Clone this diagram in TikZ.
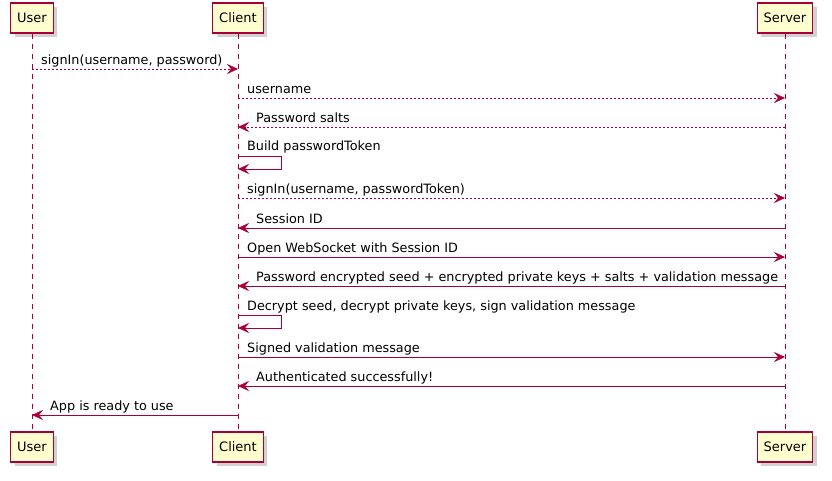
\documentclass[tikz,border=0pt]{standalone}
\usepackage{fontspec}
\setmainfont{DejaVu Sans}
\usetikzlibrary{shadows, arrows.meta, positioning}
\definecolor{umlred}{HTML}{A80036}
\definecolor{umlfill}{HTML}{FEFECE}

\begin{document}
\begin{tikzpicture}[
	x=1pt, y=-1pt,
	actor/.style={draw=umlred, fill=umlfill, line width=1.1pt, minimum height=30pt, inner xsep=6.5pt,
		font=\fontsize{13}{15}\selectfont,
		drop shadow={shadow xshift=4pt, shadow yshift=-4pt, opacity=0.3, fill=black!60}},
	lifeline/.style={draw=umlred, dash pattern=on 5pt off 5pt},
	call/.style={draw=umlred, -{Stealth[length=11pt, width=10pt, inset=4pt]}},
	reply/.style={call, dash pattern=on 2pt off 2pt},
	lbl/.style={anchor=base west, inner sep=0pt, font=\fontsize{12.8}{15}\selectfont}
	]
	\useasboundingbox (0,0) rectangle (832,481);
	
	\node[actor] (userT) at (32,18) {User};
	\node[actor] (clientT) at (238,18) {Client};
	\node[actor] (serverT) at (785,18) {Server};
	\node[actor] (userB) at (32,447) {User};
	\node[actor] (clientB) at (238,447) {Client};
	\node[actor] (serverB) at (785,447) {Server};
	
	\draw[lifeline] (userT) -- (userB);
	\draw[lifeline] (clientT) -- (clientB);
	\draw[lifeline] (serverT) -- (serverB);
	
	\coordinate (m1) at (0,69);
	\coordinate (m2) at (0,98);
	\coordinate (m3) at (0,127);
	\coordinate (m4) at (0,156);
	\coordinate (m4b) at (0,169);
	\coordinate (m5) at (0,198);
	\coordinate (m6) at (0,228);
	\coordinate (m7) at (0,257);
	\coordinate (m8) at (0,286);
	\coordinate (m9) at (0,315);
	\coordinate (m9b) at (0,328);
	\coordinate (m10) at (0,357);
	\coordinate (m11) at (0,386);
	\coordinate (m12) at (0,415);
	
	\draw[reply] (userT |- m1) -- (clientT |- m1)
	node[lbl, at start, xshift=9pt, yshift=4.5pt] {signIn(username, password)};
	\draw[reply] (clientT |- m2) -- (serverT |- m2)
	node[lbl, at start, xshift=9pt, yshift=4.5pt] {username};
	\draw[reply] (serverT |- m3) -- (clientT |- m3)
	node[lbl, at end, xshift=18pt, yshift=4.5pt] {Password salts};
	\draw[call] (clientT |- m4) -- ++(43,0) -- ++(0,13) -- (clientT |- m4b);
	\node[lbl, xshift=9pt, yshift=5pt] at (clientT |- m4) {Build passwordToken};
	\draw[reply] (clientT |- m5) -- (serverT |- m5)
	node[lbl, at start, xshift=9pt, yshift=4.5pt] {signIn(username, passwordToken)};
	\draw[call] (serverT |- m6) -- (clientT |- m6)
	node[lbl, at end, xshift=18pt, yshift=4.5pt] {Session ID};
	\draw[call] (clientT |- m7) -- (serverT |- m7)
	node[lbl, at start, xshift=9pt, yshift=4.5pt] {Open WebSocket with Session ID};
	\draw[call] (serverT |- m8) -- (clientT |- m8)
	node[lbl, at end, xshift=18pt, yshift=4.5pt] {Password encrypted seed + encrypted private keys + salts + validation message};
	\draw[call] (clientT |- m9) -- ++(43,0) -- ++(0,13) -- (clientT |- m9b);
	\node[lbl, xshift=9pt, yshift=5pt] at (clientT |- m9) {Decrypt seed, decrypt private keys, sign validation message};
	\draw[call] (clientT |- m10) -- (serverT |- m10)
	node[lbl, at start, xshift=9pt, yshift=4.5pt] {Signed validation message};
	\draw[call] (serverT |- m11) -- (clientT |- m11)
	node[lbl, at end, xshift=18pt, yshift=4.5pt] {Authenticated successfully!};
	\draw[call] (clientT |- m12) -- (userT |- m12)
	node[lbl, at end, xshift=18pt, yshift=4.5pt] {App is ready to use};
\end{tikzpicture}
\end{document}
